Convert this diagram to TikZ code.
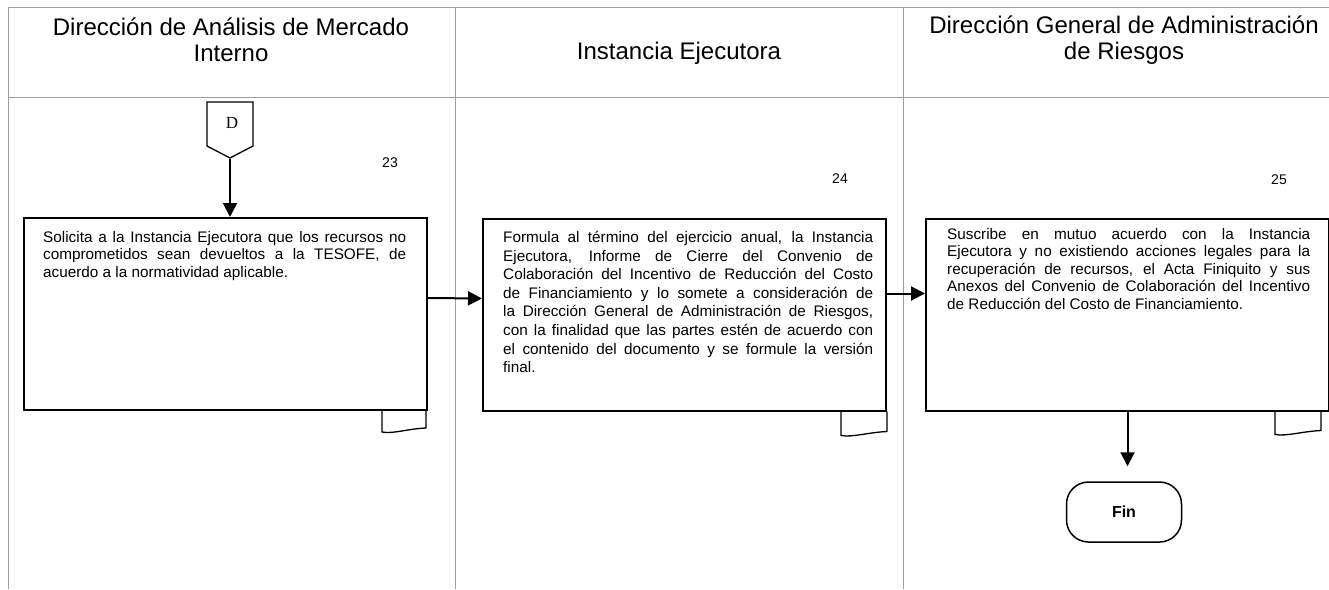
\documentclass[tikz,border=0pt]{standalone}
\usepackage{fontspec}
\setmainfont{Liberation Sans}
\newfontfamily\serifD{Liberation Serif}
\usetikzlibrary{arrows.meta}
\hyphenpenalty=10000
\newcommand{\doctab}[4]{% node, inset, width, height
  \begin{scope}[shift={(#1.south east)}]
    \draw[tab] (-#2-#3,0) -- (-#2-#3,#4) .. controls (-#2-#3+12,#4+2) and (-#2-20,#4-3) .. (-#2,#4-4) -- (-#2,0);
  \end{scope}}
\begin{document}
\begin{tikzpicture}[x=1pt,y=-1pt,
  lane/.style={draw=black!38, line width=1pt},
  proc/.style={draw, line width=2pt, minimum width=403pt, minimum height=192pt, inner sep=0pt, anchor=north west},
  ptext/.style={anchor=north west, text width=363pt, align=justify, inner sep=0pt, font={\fontsize{15.3}{17.5}\selectfont}},
  head/.style={align=center, font={\fontsize{24}{26}\selectfont}, inner sep=0pt},
  num/.style={font={\fontsize{14}{17}\selectfont}, inner sep=0pt},
  flow/.style={line width=2pt, -{Triangle[length=14pt,width=14pt]}},
  tab/.style={line width=1.3pt},
  term/.style={draw, line width=1.5pt, rounded corners=22pt, minimum width=115pt, minimum height=60pt, font={\bfseries\fontsize{16}{18}\selectfont}}
]
\useasboundingbox (0,0) rectangle (1329,589);
% lanes
\draw[lane] (8,7) -- (1329,7);
\draw[lane] (8,97.5) -- (1329,97.5);
\draw[lane] (8,7) -- (8,589);
\draw[lane] (455,7) -- (455,589);
\draw[lane] (903,7) -- (903,589);
% headers
\node[head] (h1) at (231,40) {Dirección de Análisis de Mercado\\Interno};
\node[head] (h2) at (679,53) {Instancia Ejecutora};
\node[head] (h3) at (1124,40) {Dirección General de Administración\\de Riesgos};
% numbers
\node[num] (n23) at (390,163) {23};
\node[num] (n24) at (840,179) {24};
\node[num] (n25) at (1279,180) {25};
% connector D
\draw[line width=1.3pt] (207,102) -- (253,102) -- (253,146) -- (230,158) -- (207,146) -- cycle;
\node[inner sep=0pt, font={\serifD\fontsize{17}{19}\selectfont}] (D) at (232,123) {D};
\coordinate (Dtip) at (230,159);
% boxes
\node[proc] (b1) at (23,217) {};
\node[proc] (b2) at (482,217.5) {};
\node[proc] (b3) at (925,217.5) {};
\doctab{b1}{2}{44}{21}
\doctab{b2}{0}{46}{24}
\doctab{b3}{9}{46}{23}
\node[ptext] (t1) at (43,231) {Solicita a la Instancia Ejecutora que los recursos no\linebreak comprometidos sean devueltos a la TESOFE, de\linebreak acuerdo a la normatividad aplicable.};
\node[ptext, text width=370pt, font={\fontsize{15.3}{18.6}\selectfont}] (t2) at (503,231) {Formula al término del ejercicio anual, la Instancia\linebreak Ejecutora, Informe de Cierre del Convenio de\linebreak Colaboración del Incentivo de Reducción del Costo\linebreak de Financiamiento y lo somete a consideración de\linebreak la Dirección General de Administración de Riesgos,\linebreak con la finalidad que las partes estén de acuerdo con\linebreak el contenido del documento y se formule la versión\linebreak final.};
\node[ptext] (t3) at (947,228) {Suscribe en mutuo acuerdo con la Instancia\linebreak Ejecutora y no existiendo acciones legales para la\linebreak recuperación de recursos, el Acta Finiquito y sus\linebreak Anexos del Convenio de Colaboración del Incentivo\linebreak de Reducción del Costo de Financiamiento.};
% terminal
\node[term] (fin) at (1124,512) {Fin};
% flows
\draw[flow] (Dtip) -- (Dtip |- b1.north);
\draw[flow] ([yshift=16pt]b1.east) -- ([yshift=16pt]b2.west);
\draw[flow] ([yshift=21pt]b2.east) -- ([yshift=21pt]b3.west);
\draw[flow, shorten >=15pt] (b3.south) -- (b3.south |- fin.north);
\end{tikzpicture}
\end{document}
